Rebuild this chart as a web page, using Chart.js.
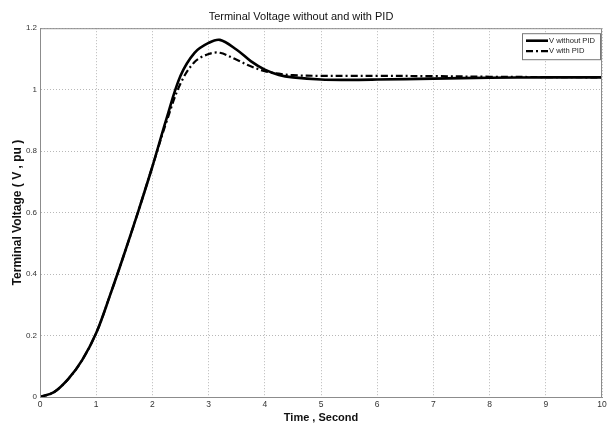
<!DOCTYPE html>
<html lang="en">
<head>
    <meta charset="UTF-8" />
    <title>Terminal Voltage without and with PID</title>
    <script src="https://cdn.jsdelivr.net/npm/chart.js"></script>
    <style>
        html, body { margin: 0; padding: 0; background: #fff; }
        .chart-box { position: relative; width: 611px; height: 425px; }
    </style>
</head>
<body>
    <div class="chart-box">
        <canvas id="voltChart" width="611" height="425"></canvas>
    </div>

    <script>
        // values
        const timeSec = [0, 0.25, 0.5, 0.75, 1, 1.25, 1.5, 1.75, 2, 2.25, 2.5, 2.75, 3, 3.2, 3.5, 3.75, 4, 4.25, 4.5, 5, 5.5, 6, 7, 8, 9, 10];
        const vWithoutPid = [0, 0.016, 0.058, 0.12, 0.208, 0.333, 0.466, 0.605, 0.75, 0.905, 1.045, 1.12, 1.152, 1.162, 1.13, 1.093, 1.065, 1.048, 1.04, 1.033, 1.032, 1.033, 1.036, 1.039, 1.04, 1.04];
        const vWithPid = [0, 0.016, 0.058, 0.12, 0.208, 0.333, 0.466, 0.605, 0.75, 0.895, 1.02, 1.09, 1.116, 1.12, 1.097, 1.076, 1.06, 1.052, 1.047, 1.045, 1.045, 1.045, 1.044, 1.042, 1.041, 1.04];
        const seriesNames = ['V without PID', 'V with PID'];
        const xTicks = [0, 1, 2, 3, 4, 5, 6, 7, 8, 9, 10];
        const yTicks = [0, 0.2, 0.4, 0.6, 0.8, 1, 1.2];

        const narrow = "'Liberation Sans Narrow', 'Liberation Sans', Arial, sans-serif";
        const plain = "'Liberation Sans', Arial, sans-serif";

        const toPoints = (ys) => ys.map((v, i) => ({ x: timeSec[i], y: v }));

        // matlab style box round the axes + legend in the top right corner
        const boxAndLegend = {
            id: 'boxAndLegend',
            afterDraw(chart) {
                const { ctx, chartArea: a } = chart;
                ctx.save();
                ctx.strokeStyle = '#8c8c8c';
                ctx.lineWidth = 1;
                ctx.strokeRect(a.left + 0.5, a.top + 0.5, a.right - a.left - 1, a.bottom - a.top);

                const bx = a.right - 80, by = a.top + 5, bw = 78, bh = 26;
                ctx.fillStyle = '#fff';
                ctx.fillRect(bx, by, bw, bh);
                ctx.strokeStyle = '#777';
                ctx.strokeRect(bx + 0.5, by + 0.5, bw, bh);

                ctx.font = '7.6px ' + narrow;
                ctx.textBaseline = 'middle';
                chart.data.datasets.forEach((ds, i) => {
                    const y = by + 7.5 + i * 10.5;
                    ctx.beginPath();
                    ctx.setLineDash(ds.borderDash || []);
                    ctx.lineWidth = ds.borderWidth;
                    ctx.strokeStyle = ds.borderColor;
                    ctx.moveTo(bx + 4, y);
                    ctx.lineTo(bx + 26, y);
                    ctx.stroke();
                    ctx.setLineDash([]);
                    ctx.fillStyle = '#222';
                    ctx.fillText(ds.label, bx + 27, y);
                });
                ctx.restore();
            }
        };

        new Chart(document.getElementById('voltChart'), {
            type: 'line',
            data: {
                datasets: [
                    {
                        label: seriesNames[0],
                        data: toPoints(vWithoutPid),
                        borderColor: '#000',
                        borderWidth: 2.6,
                        pointRadius: 0,
                        tension: 0.35,
                        fill: false
                    },
                    {
                        label: seriesNames[1],
                        data: toPoints(vWithPid),
                        borderColor: '#000',
                        borderWidth: 2.2,
                        borderDash: [7, 3, 2, 3],
                        pointRadius: 0,
                        tension: 0.35,
                        fill: false
                    }
                ]
            },
            options: {
                responsive: false,
                animation: false,
                layout: { padding: { left: 0, right: 9, top: 0, bottom: 0 } },
                plugins: {
                    legend: { display: false },
                    tooltip: { enabled: false },
                    title: {
                        display: true,
                        text: 'Terminal Voltage without and with PID',
                        color: '#111',
                        font: { family: plain, size: 11, weight: 'normal' },
                        padding: { top: 10, bottom: 5 }
                    }
                },
                scales: {
                    x: {
                        type: 'linear',
                        min: 0,
                        max: 10,
                        afterBuildTicks: (s) => { s.ticks = xTicks.map(v => ({ value: v })); },
                        afterFit: (s) => { s.height = 28; },
                        grid: { color: '#b8b8b8', drawTicks: false, lineWidth: 1 },
                        border: { color: '#8c8c8c', display: true, dash: [1, 2] },
                        ticks: { color: '#333', font: { family: narrow, size: 8.5 }, padding: 3, maxRotation: 0 },
                        title: {
                            display: true,
                            text: 'Time , Second',
                            color: '#111',
                            font: { family: plain, size: 11, weight: 'bold' },
                            padding: { top: 0, bottom: 0 }
                        }
                    },
                    y: {
                        type: 'linear',
                        min: 0,
                        max: 1.2,
                        afterBuildTicks: (s) => { s.ticks = yTicks.map(v => ({ value: v })); },
                        afterFit: (s) => { s.width = 40; },
                        grid: { color: '#b8b8b8', drawTicks: false, lineWidth: 1 },
                        border: { color: '#8c8c8c', display: true, dash: [1, 2] },
                        ticks: {
                            color: '#333',
                            font: { family: narrow, size: 8 },
                            padding: 3,
                            callback: (v) => String(Number(v.toFixed(1)))
                        },
                        title: {
                            display: true,
                            text: 'Terminal Voltage ( V , pu )',
                            color: '#111',
                            font: { family: plain, size: 12, weight: 'bold' },
                            padding: { top: 10, bottom: 0 }
                        }
                    }
                }
            },
            plugins: [boxAndLegend]
        });
    </script>
</body>
</html>
